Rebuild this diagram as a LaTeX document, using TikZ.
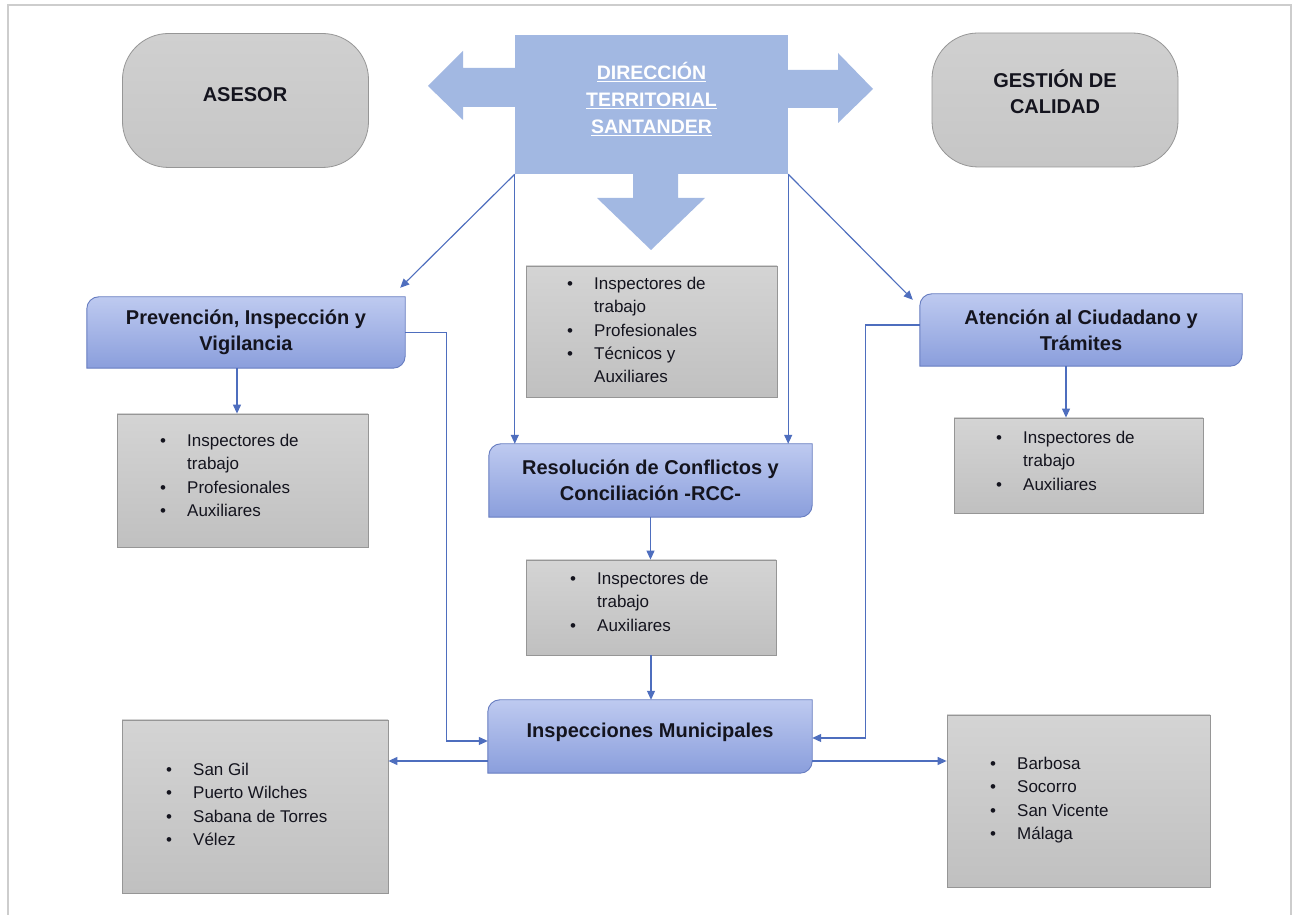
\documentclass[tikz,border=0pt]{standalone}
\usepackage{fontspec}
\setmainfont{Liberation Sans}
\usetikzlibrary{arrows.meta,calc,backgrounds}
\definecolor{dirblue}{RGB}{162,184,226}
\definecolor{btop}{RGB}{190,202,240}
\definecolor{bbot}{RGB}{138,158,220}
\definecolor{bline}{RGB}{102,124,192}
\definecolor{conn}{RGB}{78,110,190}
\definecolor{gtop}{RGB}{212,212,212}
\definecolor{gbot}{RGB}{192,192,192}
\definecolor{ptop}{RGB}{208,208,208}
\definecolor{pbot}{RGB}{198,198,198}
\definecolor{gline}{RGB}{150,150,150}
\definecolor{framec}{RGB}{205,205,205}
\definecolor{txt}{RGB}{20,20,30}
\newcommand\roundiag[1]{%
  \begin{scope}[on background layer]
  \path[bluefill] (#1.south west) -- ([yshift=-12pt]#1.north west)
    arc[start angle=180,end angle=90,radius=12pt] -- (#1.north east)
    -- ([yshift=12pt]#1.south east) arc[start angle=0,end angle=-90,radius=12pt] -- cycle;
  \end{scope}}
\newcommand\blist[1]{{\fontsize{17}{23.4}\selectfont\begin{tabular}{@{}p{27pt}@{}l@{}}#1\end{tabular}}}
\tikzset{
  heading/.style={font=\fontsize{20}{26}\selectfont\bfseries, text=txt, align=center},
  pill/.style={rectangle, rounded corners=46pt, top color=ptop, bottom color=pbot,
     draw=gline, line width=0.8pt, minimum width=246pt, minimum height=134pt, inner sep=0pt},
  bluebox/.style={rectangle, draw=none, inner sep=0pt, minimum width=#1, minimum height=72pt},
  bluefill/.style={top color=btop, bottom color=bbot, draw=bline, line width=0.9pt},
  staffbox/.style={rectangle, top color=gtop, bottom color=gbot, draw=gline, line width=0.8pt, inner sep=0pt},
  listtext/.style={anchor=north west, inner sep=0pt, text=txt},
  conarrow/.style={draw=conn, line width=1.15pt, -{Triangle[length=9pt,width=8pt]}},
  bigarrow/.style={fill=dirblue, draw=none},
}
\begin{document}
\begin{tikzpicture}[x=1pt,y=1pt]
\useasboundingbox (0,0) rectangle (1294,915);
\begin{scope}[on background layer]
\fill[white] (0,0) rectangle (1294,915);
\end{scope}
\draw[framec, line width=1.5pt] (8,0) -- (8,910) -- (1291,910) -- (1291,0);

% top shapes
\node[pill] (ases) at (245.5,814.5) {};
\node[heading] (asest) at (245,820) {ASESOR};
\node[pill] (gest) at (1055,815) {};
\node[heading] (gestt) at (1055,823) {GESTIÓN DE\\CALIDAD};

\fill[bigarrow] (516,847) -- (463,847) -- (463,864) -- (428,829) -- (463,795) -- (463,808) -- (516,808) -- cycle;
\fill[bigarrow] (787,845) -- (838,845) -- (838,862) -- (873,826) -- (838,792) -- (838,807) -- (787,807) -- cycle;
\fill[bigarrow] (633,742) -- (633,717) -- (597,717) -- (651,665) -- (705,717) -- (678,717) -- (678,742) -- cycle;
\node[rectangle, fill=dirblue, minimum width=273pt, minimum height=139pt, inner sep=0pt] (dir) at (651.5,810.5) {};
\node[font=\fontsize{19.5}{27}\selectfont\bfseries, text=white, align=center] (dirt) at (651.5,816)
  {\underline{DIRECCIÓN}\\\underline{TERRITORIAL}\\\underline{SANTANDER}};

% blue boxes
\node[bluebox=318pt, minimum height=71pt, heading] (prev) at (246,582.5) {Prevención, Inspección y\\Vigilancia};
\roundiag{prev}
\node[bluebox=322pt, heading] (aten) at (1081,585) {Atención al Ciudadano y\\Trámites};
\roundiag{aten}
\node[bluebox=323pt, minimum height=73pt, heading] (res) at (650.5,434.5) {Resolución de Conflictos y\\Conciliación -RCC-};
\roundiag{res}
\node[bluebox=324pt, minimum height=73pt] (insp) at (650,178.5) {};
\roundiag{insp}
\node[heading] (inspt) at (650,183) {Inspecciones Municipales};

% staff boxes
\node[staffbox, minimum width=251pt, minimum height=131pt] (cstaff) at (651.5,583.5) {};
\node[listtext] (cl) at (567,642.3) {\blist{\textbullet & Inspectores de\\ & trabajo\\ \textbullet & Profesionales\\ \textbullet & Técnicos y\\ & Auxiliares}};
\node[staffbox, minimum width=251pt, minimum height=133pt] (lstaff) at (242.5,434.5) {};
\node[listtext] (ll) at (160,485.3) {\blist{\textbullet & Inspectores de\\ & trabajo\\ \textbullet & Profesionales\\ \textbullet & Auxiliares}};
\node[staffbox, minimum width=249pt, minimum height=95pt] (astaff) at (1078.5,449.5) {};
\node[listtext] (al) at (996,488.3) {\blist{\textbullet & Inspectores de\\ & trabajo\\ \textbullet & Auxiliares}};
\node[staffbox, minimum width=250pt, minimum height=95pt] (rstaff) at (651,307.5) {};
\node[listtext] (rl) at (570,347.3) {\blist{\textbullet & Inspectores de\\ & trabajo\\ \textbullet & Auxiliares}};
\node[staffbox, minimum width=266pt, minimum height=173pt] (blbox) at (255,108.5) {};
\node[listtext] (bll) at (166,156.3) {\blist{\textbullet & San Gil\\ \textbullet & Puerto Wilches\\ \textbullet & Sabana de Torres\\ \textbullet & Vélez}};
\node[staffbox, minimum width=263pt, minimum height=172pt] (brbox) at (1078.5,114) {};
\node[listtext] (brl) at (990,162.3) {\blist{\textbullet & Barbosa\\ \textbullet & Socorro\\ \textbullet & San Vicente\\ \textbullet & Málaga}};

% connectors
\draw[conarrow] (dir.south west) -- ([xshift=-5pt,yshift=9pt]prev.north east);
\draw[conarrow] (dir.south east) -- ([xshift=-7pt,yshift=-6pt]aten.north west);
\draw[conarrow] (dir.south west) -- (dir.south west |- res.north);
\draw[conarrow] (dir.south east) -- (dir.south east |- res.north);
\coordinate (pdown) at ([xshift=-9pt]prev.south);
\draw[conarrow] (pdown) -- (pdown |- lstaff.north);
\coordinate (adown) at ([xshift=-15pt]aten.south);
\draw[conarrow] (adown) -- (adown |- astaff.north);
\draw[conarrow] (res.south) -- (res.south |- rstaff.north);
\draw[conarrow] (rstaff.south) -- (rstaff.south |- insp.north);
\draw[conarrow] (prev.east) -- ++(41,0) |- ([yshift=-4.5pt]insp.west);
\draw[conarrow] ([yshift=5pt]aten.west) -- ++(-54,0) |- ([yshift=-1.5pt]insp.east);
\coordinate (ilo) at ([yshift=-24.5pt]insp.west);
\draw[conarrow] (ilo) -- (ilo -| blbox.east);
\coordinate (iro) at ([yshift=-24.5pt]insp.east);
\draw[conarrow] (iro) -- (iro -| brbox.west);
\end{tikzpicture}
\end{document}
